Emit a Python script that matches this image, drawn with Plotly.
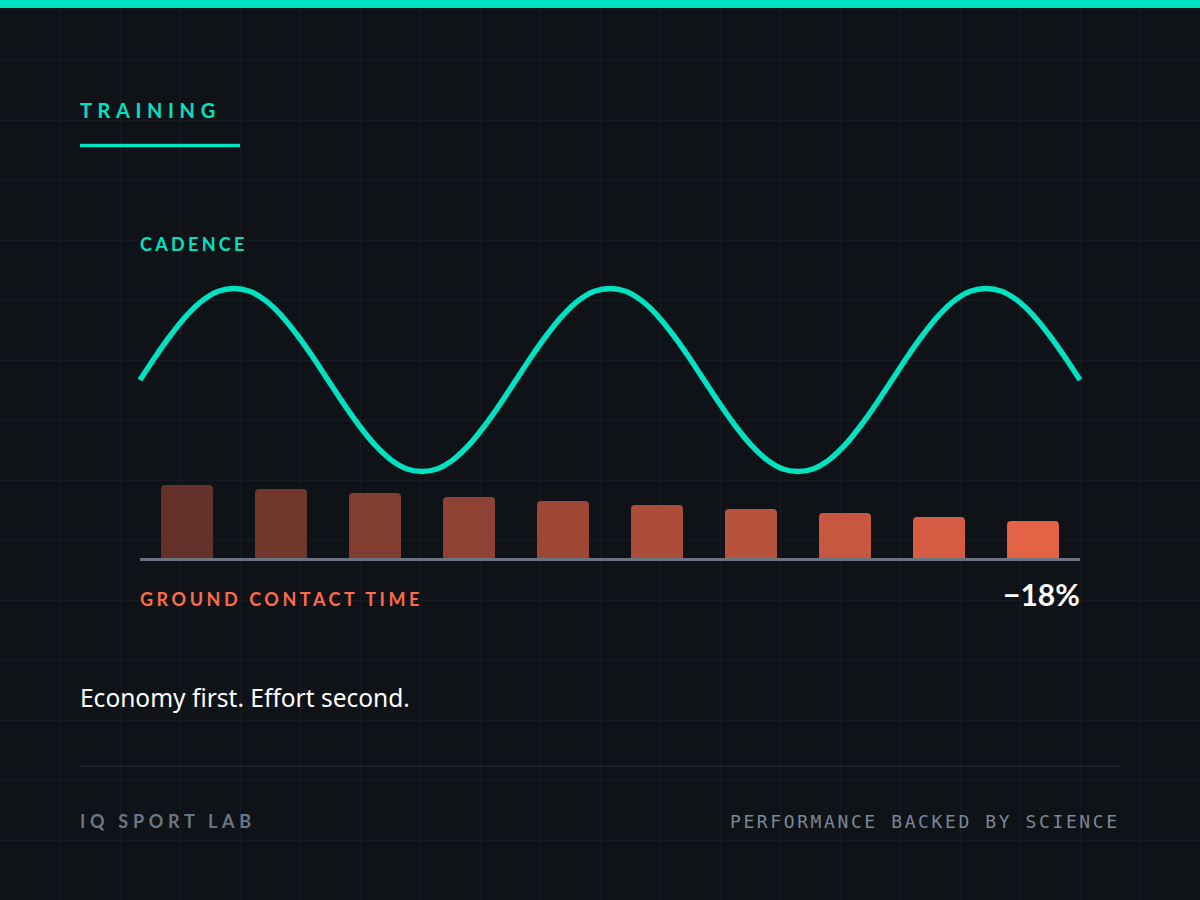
import plotly.graph_objects as go

W, H = 1200, 900
BG = "#0f1217"
TEAL = "#00e2c0"
CORAL = "#e46246"

# cadence swing, read every 1/24 of a cycle (normalised -1..1), 2.5 cycles
cadence = [0, 0.26, 0.5, 0.71, 0.87, 0.97, 1.0, 0.97, 0.87, 0.71, 0.5, 0.26,
           0, -0.26, -0.5, -0.71, -0.87, -0.97, -1.0, -0.97, -0.87, -0.71, -0.5, -0.26,
           0, 0.26, 0.5, 0.71, 0.87, 0.97, 1.0, 0.97, 0.87, 0.71, 0.5, 0.26,
           0, -0.26, -0.5, -0.71, -0.87, -0.97, -1.0, -0.97, -0.87, -0.71, -0.5, -0.26,
           0, 0.26, 0.5, 0.71, 0.87, 0.97, 1.0, 0.97, 0.87, 0.71, 0.5, 0.26, 0]
# ground contact time per session (relative bar height)
sessions = ["S1", "S2", "S3", "S4", "S5", "S6", "S7", "S8", "S9", "S10"]
gct = [73, 69, 65, 61, 57, 53, 49, 45, 41, 37]
gct_change = "−18%"


def hex_rgb(h):
    h = h.lstrip("#")
    return [int(h[i:i + 2], 16) for i in (0, 2, 4)]


def mix(fg, bg, a):
    f, b = hex_rgb(fg), hex_rgb(bg)
    return "#" + "".join("%02x" % round(b[i] + a * (f[i] - b[i])) for i in range(3))


# bars fade in from dark to full coral
bar_colors = [mix(CORAL, BG, 0.4 + 0.6 * i / (len(gct) - 1)) for i in range(len(gct))]


def px(x, y):
    return x / W, 1 - y / H


fig = go.Figure()

# background grid (60px cells) on the first subplot so it sits under everything
fig.add_trace(go.Scatter(x=[], y=[], xaxis="x", yaxis="y", showlegend=False))

# cadence line
fig.add_trace(go.Scatter(
    x=list(range(len(cadence))), y=cadence, mode="lines",
    line=dict(color=TEAL, width=5.5, shape="spline", smoothing=1.0),
    xaxis="x2", yaxis="y2", hoverinfo="skip", showlegend=False,
))

# ground contact time bars
fig.add_trace(go.Bar(
    x=sessions, y=gct, marker=dict(color=bar_colors, line=dict(width=0)),
    xaxis="x3", yaxis="y3", hoverinfo="skip", showlegend=False,
))

# line axes: x from 140 to 1080 px, centre 380 px, amplitude 91.5 px
lx0, lx1, pad = 140, 1080, 14
step = (lx1 - lx0) / (len(cadence) - 1)
amp, cy, yr = 91.5, 380, 1.3

# bar axes: zero at 558 px, 1 unit per px
b_zero, b_top = 558, 458

hidden = dict(showgrid=False, zeroline=False, showticklabels=False, showline=False, ticks="")

fig.update_layout(
    width=W, height=H, autosize=False,
    margin=dict(l=0, r=0, t=0, b=0),
    paper_bgcolor=BG, plot_bgcolor="rgba(0,0,0,0)",
    bargap=0.447, barcornerradius=4,
    xaxis=dict(domain=[0, 1], range=[0, W], dtick=60, tick0=0, showgrid=True,
               gridcolor="#161b21", gridwidth=1, zeroline=False, showticklabels=False,
               ticks="", anchor="y", fixedrange=True),
    yaxis=dict(domain=[0, 1], range=[H, 0], dtick=60, tick0=0, showgrid=True,
               gridcolor="#161b21", gridwidth=1, zeroline=False, showticklabels=False,
               ticks="", anchor="x", fixedrange=True),
    xaxis2=dict(domain=[(lx0 - pad) / W, (lx1 + pad) / W],
                range=[-pad / step, len(cadence) - 1 + pad / step], anchor="y2", **hidden),
    yaxis2=dict(domain=[(H - cy - amp * yr) / H, (H - cy + amp * yr) / H],
                range=[-yr, yr], anchor="x2", **hidden),
    xaxis3=dict(domain=[lx0 / W, lx1 / W], type="category", anchor="y3", **hidden),
    yaxis3=dict(domain=[(H - b_zero - 3) / H, (H - b_top) / H],
                range=[-3, b_zero - b_top], anchor="x3", **hidden),
)

shapes = [
    # top accent bar
    dict(type="rect", xref="paper", yref="paper", x0=0, x1=1, y0=1 - 8 / H, y1=1,
         fillcolor=TEAL, line=dict(width=0)),
    # underline below TRAINING
    dict(type="line", xref="paper", yref="paper", x0=80 / W, x1=240 / W,
         y0=1 - 145.5 / H, y1=1 - 145.5 / H, line=dict(color=TEAL, width=3.5)),
    # bar baseline
    dict(type="line", xref="x3 domain", yref="y3", x0=0, x1=1, y0=-1.5, y1=-1.5,
         line=dict(color="#6b7380", width=3)),
    # footer divider
    dict(type="line", xref="paper", yref="paper", x0=80 / W, x1=1120 / W,
         y0=1 - 766 / H, y1=1 - 766 / H, line=dict(color="#1c2229", width=2)),
]
fig.update_layout(shapes=shapes)


def label(text, x, y, size, color, family="Lato", weight="normal", ls=0, anchor="left"):
    if ls:
        text = '<span style="letter-spacing:%spx">%s</span>' % (ls, text)
    # annotation box adds ~2px of padding, pull the anchor out by that much
    x = x - 2 if anchor == "left" else x + 2
    ax, ay = px(x, y)
    fig.add_annotation(x=ax, y=ay, xref="paper", yref="paper", text=text, showarrow=False,
                       xanchor=anchor, yanchor="middle", align=anchor,
                       font=dict(family=family, size=size, color=color, weight=weight))


label("TRAINING", 80, 110, 20, TEAL, weight="bold", ls=5.6)
label("CADENCE", 140, 243.5, 18, TEAL, weight="bold", ls=3.3)
label("GROUND CONTACT TIME", 140, 599, 18, "#ff6b48", weight="bold", ls=3.55)
label(gct_change, 1080, 594, 30, "#ffffff", weight="bold", anchor="right")
label("Economy first. Effort second.", 80, 697, 24.5, "#ffffff", family="Noto Sans")
label("IQ SPORT LAB", 80, 821, 18, "#6b7685", weight="bold", ls=4.7)
label("PERFORMANCE BACKED BY SCIENCE", 1120, 821, 18, "#7c8795",
      family="DejaVu Sans Mono", ls=2.6, anchor="right")

fig.write_html("out.html", config={"displayModeBar": False, "staticPlot": True},
               post_script="document.body.style.margin='0';")
